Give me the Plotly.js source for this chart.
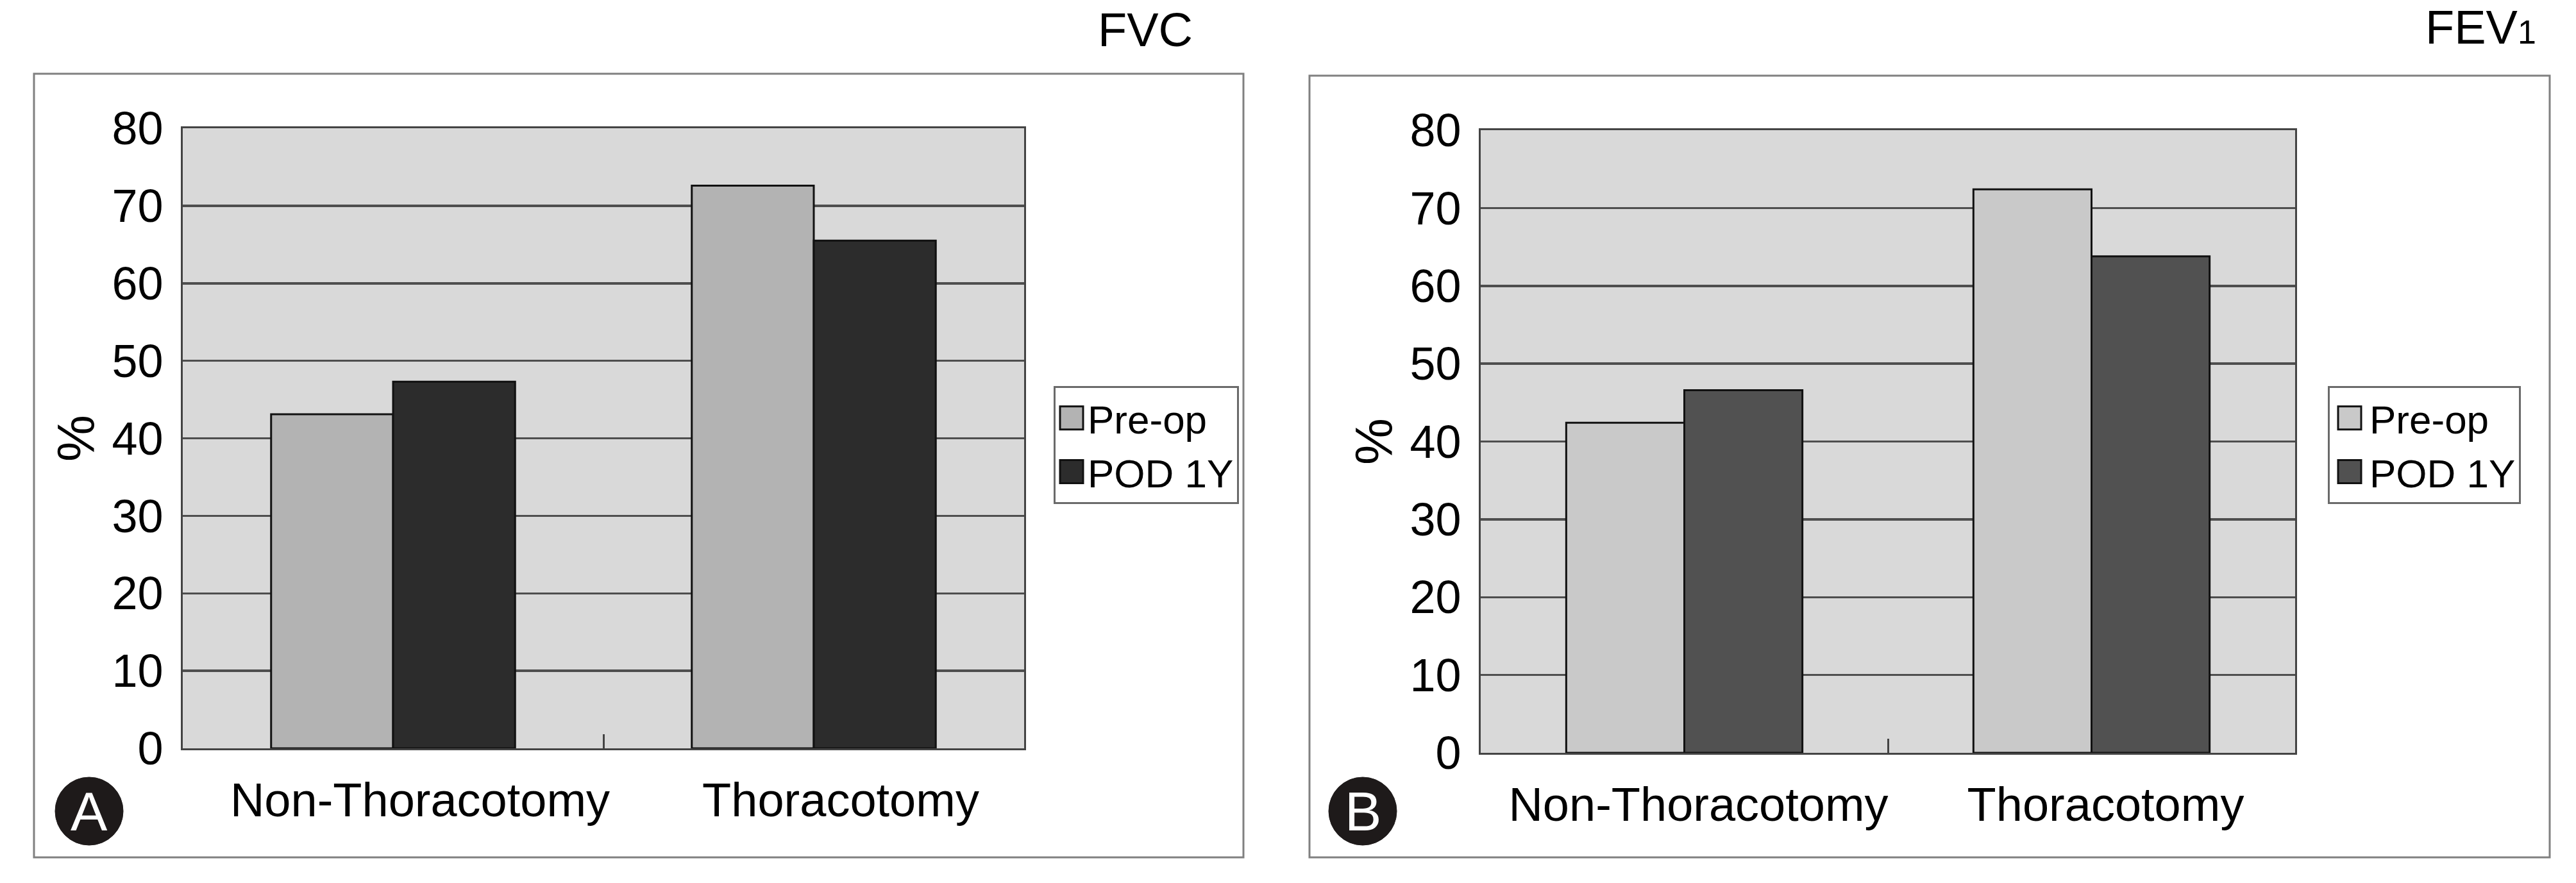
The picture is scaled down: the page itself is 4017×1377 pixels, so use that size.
<!DOCTYPE html>
<html>
<head>
<meta charset="utf-8">
<script src="https://cdn.plot.ly/plotly-3.0.1.min.js"></script>
<style>
  html, body { margin: 0; padding: 0; background: #ffffff; }
  #chart { width: 4017px; height: 1377px; }
</style>
</head>
<body>
<div id="chart"></div>
<script>
// ---- data ----
const categories = ['Non-Thoracotomy', 'Thoracotomy'];
const seriesNames = ['Pre-op', 'POD 1Y'];
const fvcPreop = [43.1, 72.6];
const fvcPod1y = [47.3, 65.5];
const fev1Preop = [42.4, 72.4];
const fev1Pod1y = [46.6, 63.8];
const yTickVals = [0, 10, 20, 30, 40, 50, 60, 70, 80];
const panelTitles = ['FVC', 'FEV<span style="font-size:52px">1</span>'];
const panelLetters = ['A', 'B'];
const yTitle = '%';

// ---- page geometry (px) ----
const W = 4017, H = 1377;
const px = v => v / W;
const py = v => 1 - v / H;

const FONT = '"Liberation Sans", Arial, Helvetica, sans-serif';

function barTrace(y, name, color, xa, ya, legend) {
  return {
    type: 'bar', x: categories, y: y, name: name,
    xaxis: xa, yaxis: ya, legend: legend,
    marker: { color: color, line: { color: '#111111', width: 3 } },
    hoverinfo: 'x+y+name'
  };
}

const data = [
  barTrace(fvcPreop, seriesNames[0], '#b3b3b3', 'x', 'y', 'legend'),
  barTrace(fvcPod1y, seriesNames[1], '#2c2c2c', 'x', 'y', 'legend'),
  barTrace(fev1Preop, seriesNames[0], '#c9c9c9', 'x2', 'y2', 'legend2'),
  barTrace(fev1Pod1y, seriesNames[1], '#515151', 'x2', 'y2', 'legend2')
];

function xAxis(domain, anchor, shift) {
  return {
    domain: domain, anchor: anchor, type: 'category',
    showline: true, linecolor: '#444444', linewidth: 3, mirror: true,
    ticks: 'inside', tickson: 'boundaries', ticklen: 22, tickwidth: 3, tickcolor: '#444444',
    tickfont: { family: FONT, size: 74, color: '#000000' },
    ticklabelstandoff: 14, ticklabelshift: shift,
    showgrid: false, zeroline: false, fixedrange: true
  };
}
function yAxis(domain, anchor) {
  return {
    domain: domain, anchor: anchor, range: [0, 80],
    tickmode: 'array', tickvals: yTickVals,
    showline: true, linecolor: '#444444', linewidth: 3, mirror: true,
    ticks: '', ticklabelstandoff: 13,
    tickfont: { family: FONT, size: 72, color: '#000000' },
    showgrid: true, gridcolor: '#4e4e4e', gridwidth: 3.5,
    zeroline: false, fixedrange: true,
    title: { text: yTitle, font: { family: FONT, size: 82, color: '#000000' }, standoff: 0 }
  };
}

const legendBase = {
  bgcolor: '#ffffff', bordercolor: '#6a6a6a', borderwidth: 3,
  font: { family: FONT, size: 62, color: '#000000' },
  xanchor: 'left', yanchor: 'top', traceorder: 'normal',
  tracegroupgap: 0
};

function box(x0, y0, x1, y1) {
  return { type: 'rect', xref: 'paper', yref: 'paper',
    x0: px(x0), x1: px(x1), y0: py(y1), y1: py(y0),
    line: { color: '#808080', width: 3 }, fillcolor: 'rgba(0,0,0,0)', layer: 'below' };
}
function circle(cx, cy, r) {
  return { type: 'circle', xref: 'paper', yref: 'paper',
    x0: px(cx - r), x1: px(cx + r), y0: py(cy + r), y1: py(cy - r),
    line: { color: '#1e1a1a', width: 1 }, fillcolor: '#1e1a1a', layer: 'above' };
}

const layout = {
  width: W, height: H,
  margin: { l: 0, r: 0, t: 0, b: 0 },
  paper_bgcolor: '#ffffff',
  plot_bgcolor: '#d9d9d9',
  barmode: 'group', bargap: 0.42, bargroupgap: 0,
  showlegend: true,
  xaxis: xAxis([px(285), px(1597)], 'y', 42),
  yaxis: yAxis([py(1167), py(200)], 'x'),
  xaxis2: xAxis([px(2309), px(3579)], 'y2', 22),
  yaxis2: yAxis([py(1174), py(203)], 'x2'),
  legend: Object.assign({}, legendBase, { x: px(1643), y: py(602), itemwidth: 40 }),
  legend2: Object.assign({}, legendBase, { x: px(3630), y: py(602), itemwidth: 52 }),
  shapes: [
    box(53, 115, 1939, 1337),
    box(2042, 118, 3976, 1337),
    circle(139, 1265, 53),
    circle(2125, 1265, 53)
  ],
  annotations: [
    { text: panelTitles[0], xref: 'paper', yref: 'paper', x: px(1862), y: py(46), xanchor: 'right', yanchor: 'middle',
      showarrow: false, font: { family: FONT, size: 74, color: '#000000' } },
    { text: panelTitles[1], xref: 'paper', yref: 'paper', x: px(3957), y: py(43), xanchor: 'right', yanchor: 'middle',
      showarrow: false, font: { family: FONT, size: 74, color: '#000000' } },
    { text: panelLetters[0], xref: 'paper', yref: 'paper', x: px(139), y: py(1265), xanchor: 'center', yanchor: 'middle',
      showarrow: false, font: { family: FONT, size: 86, color: '#ffffff' } },
    { text: panelLetters[1], xref: 'paper', yref: 'paper', x: px(2125), y: py(1265), xanchor: 'center', yanchor: 'middle',
      showarrow: false, font: { family: FONT, size: 86, color: '#ffffff' } }
  ]
};

Plotly.newPlot('chart', data, layout, { staticPlot: true, displayModeBar: false }).then(function (gd) {
  // enlarge legend swatches to match the reference's large square keys
  gd.querySelectorAll('g.legendpoints path').forEach(function (p) {
    p.setAttribute('d', 'M18,18H-18V-18H18Z');
  });
});
</script>
</body>
</html>
